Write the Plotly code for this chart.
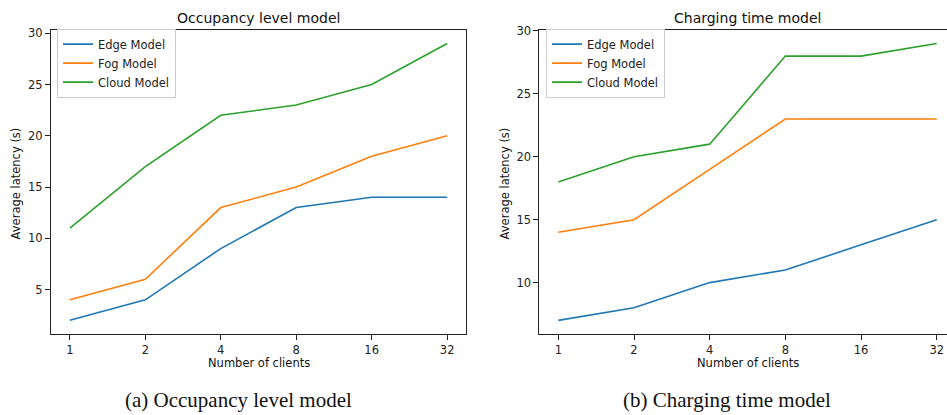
import plotly.graph_objects as go

clients = ["1", "2", "4", "8", "16", "32"]
occ_edge = [2, 4, 9, 13, 14, 14]
occ_fog = [4, 6, 13, 15, 18, 20]
occ_cloud = [11, 17, 22, 23, 25, 29]
chg_edge = [7, 8, 10, 11, 13, 15]
chg_fog = [14, 15, 19, 23, 23, 23]
chg_cloud = [18, 20, 21, 28, 28, 29]
series_names = ["Edge Model", "Fog Model", "Cloud Model"]
colors = ["#1f77b4", "#ff7f0e", "#2ca02c"]

W, H = 947, 415
SANS = "DejaVu Sans"
SERIF = "Liberation Serif, Times New Roman, serif"

fig = go.Figure()
for vals, name, c in zip([occ_edge, occ_fog, occ_cloud], series_names, colors):
    fig.add_trace(go.Scatter(x=clients, y=vals, mode="lines", name=name,
                             line=dict(color=c, width=1.6), xaxis="x", yaxis="y",
                             legend="legend"))
for vals, name, c in zip([chg_edge, chg_fog, chg_cloud], series_names, colors):
    fig.add_trace(go.Scatter(x=clients, y=vals, mode="lines", name=name,
                             line=dict(color=c, width=1.6), xaxis="x2", yaxis="y2",
                             legend="legend2"))

def px_x(p):
    return min(1.0, p / W)

def px_y(p):
    return 1 - p / H

ytop, ybot = 24, 333
ydom = [px_y(ybot), px_y(ytop)]

axis_common = dict(showline=True, linecolor="#222", linewidth=1, ticks="outside",
                   ticklen=5, tickwidth=1, tickcolor="#222", showgrid=False,
                   zeroline=False, tickfont=dict(family=SANS, size=11.5, color="#222"))

leg_common = dict(xanchor="left", yanchor="top",
                  bgcolor="rgba(255,255,255,0.8)", bordercolor="#cccccc", borderwidth=1,
                  font=dict(family=SANS, size=11.5, color="#222"), tracegroupgap=0)

fig.update_layout(
    width=W, height=H, margin=dict(l=0, r=0, t=0, b=0),
    paper_bgcolor="white", plot_bgcolor="white", showlegend=True,
    xaxis=dict(domain=[px_x(51), px_x(466)], type="category", range=[-0.25, 5.25],
               mirror=True, anchor="y", **axis_common),
    yaxis=dict(domain=ydom, range=[0.65, 30.35], tickvals=[5, 10, 15, 20, 25, 30],
               mirror=True, anchor="x", **axis_common),
    xaxis2=dict(domain=[px_x(539.4), 1], type="category", range=[-0.25, 5.136],
                mirror=True, anchor="y2", **axis_common),
    yaxis2=dict(domain=ydom, range=[5.9, 30.1], tickvals=[10, 15, 20, 25, 30],
                mirror=False, anchor="x2", **axis_common),
    legend=dict(x=px_x(57), y=px_y(23), **leg_common),
    legend2=dict(x=px_x(546), y=px_y(23), **leg_common),
)

annots = [
    dict(text="Occupancy level model", x=258.5, y=12.5, size=14, family=SANS, angle=0),
    dict(text="Charging time model", x=747.6, y=12.5, size=14, family=SANS, angle=0),
    dict(text="Number of clients", x=258.5, y=362.5, size=11.5, family=SANS, angle=0),
    dict(text="Number of clients", x=747.6, y=362.5, size=11.5, family=SANS, angle=0),
    dict(text="Average latency (s)", x=16, y=180, size=11.5, family=SANS, angle=-90),
    dict(text="Average latency (s)", x=505, y=180, size=11.5, family=SANS, angle=-90),
    dict(text="(a) Occupancy level model", x=238, y=400, size=21, family=SERIF, angle=0),
    dict(text="(b) Charging time model", x=727, y=400, size=21, family=SERIF, angle=0),
]
for a in annots:
    fig.add_annotation(text=a["text"], x=px_x(a["x"]), y=px_y(a["y"]), xref="paper",
                       yref="paper", xanchor="center", yanchor="middle", showarrow=False,
                       textangle=a["angle"],
                       font=dict(family=a["family"], size=a["size"], color="#111"))

fig.write_html(
    "out.html",
    config={"displayModeBar": False},
    post_script="document.body.style.margin='0';document.body.style.overflow='hidden';",
)
